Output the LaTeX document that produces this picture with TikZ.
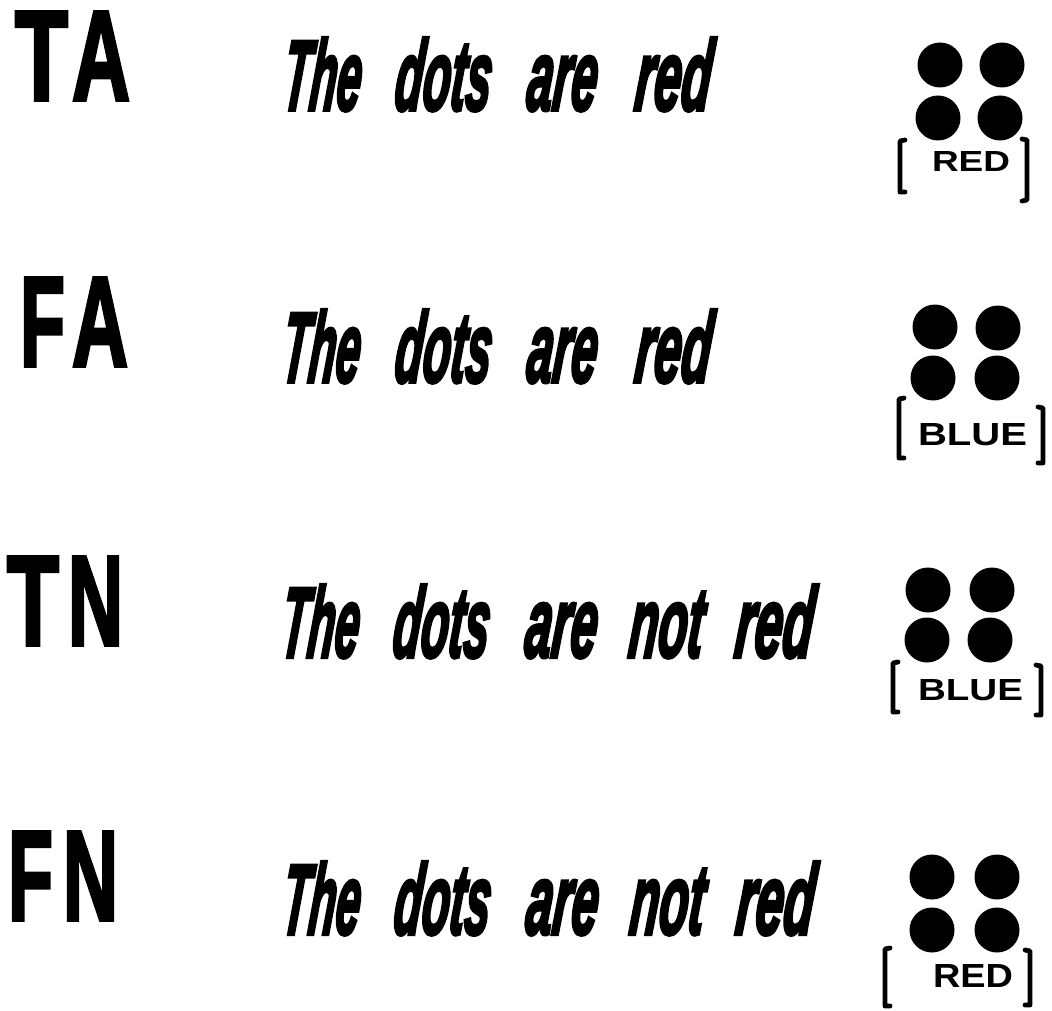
\documentclass[tikz,border=0pt]{standalone}
\usepackage{fontspec}
\usepackage{graphicx}
\setmainfont{Liberation Sans}
\IfFontExistsTF{FiraSans-HeavyItalic.otf}
  {\newfontfamily\sentfont{FiraSans-HeavyItalic.otf}}
  {\newfontfamily\sentfont[FakeBold=4]{Liberation Sans Bold Italic}}
\IfFontExistsTF{FiraSans-Heavy.otf}
  {\newfontfamily\labfont{FiraSans-Heavy.otf}}
  {\newfontfamily\labfont[FakeBold=3]{Liberation Sans Bold}}
\newfontfamily\capfont{Liberation Sans Bold}
\tikzset{
  lbl/.style={anchor=base west, inner sep=0pt, outer sep=0pt},
  word/.style={anchor=base west, inner sep=0pt, outer sep=0pt, xslant=0.1, transform shape},
  dot/.style={circle, fill=black, minimum size=45pt, inner sep=0pt},
  brk/.style={line width=4.8pt, line cap=round, line join=round},
}
% letter of a big label: width, height, letter
\newcommand{\BL}[3]{\resizebox{#1pt}{#2pt}{\labfont #3}}
% word of a sentence: width, text
\newcommand{\SW}[2]{\resizebox{#1pt}{72pt}{\sentfont\vphantom{d}#2}}
% small capitals word
\newcommand{\CW}[3]{\resizebox{#1pt}{#2pt}{\capfont #3}}
\begin{document}
\begin{tikzpicture}[x=1pt,y=-1pt]
\useasboundingbox (0,0) rectangle (1052,1011);
\fill[white] (0,0) rectangle (1052,1011);
% ---------- left labels
\node[lbl] (TA) at (15,100) {\BL{53}{88}{T}\hspace{4pt}\BL{58}{88}{A}};
\node[lbl] (FA) at (20,366) {\BL{45}{88}{F}\hspace{7pt}\BL{56}{88}{A}};
\node[lbl] (TN) at (7,645)  {\BL{52}{88}{T}\hspace{9pt}\BL{55}{88}{N}};
\node[lbl] (FN) at (8,920)  {\BL{45}{88}{F}\hspace{10pt}\BL{55}{88}{N}};
% ---------- sentences
% row 1
\node[word] (s1a) at (281,110) {\SW{78}{The}};
\node[word] (s1b) at (393,110) {\SW{96}{dots}};
\node[word] (s1c) at (525,110) {\SW{70}{are}};
\node[word] (s1d) at (633,110) {\SW{76}{red}};
% row 2
\node[word] (s2a) at (280,382) {\SW{78}{The}};
\node[word] (s2b) at (393,382) {\SW{96}{dots}};
\node[word] (s2c) at (525,382) {\SW{70}{are}};
\node[word] (s2d) at (633,382) {\SW{76}{red}};
% row 3
\node[word] (s3a) at (279,657) {\SW{78}{The}};
\node[word] (s3b) at (391,657) {\SW{96}{dots}};
\node[word] (s3c) at (523,657) {\SW{72}{are}};
\node[word] (s3d) at (627,657) {\SW{74}{not}};
\node[word] (s3e) at (733,657) {\SW{78}{red}};
% row 4
\node[word] (s4a) at (280,934) {\SW{78}{The}};
\node[word] (s4b) at (392,934) {\SW{96}{dots}};
\node[word] (s4c) at (524,934) {\SW{72}{are}};
\node[word] (s4d) at (628,934) {\SW{74}{not}};
\node[word] (s4e) at (734,934) {\SW{78}{red}};
% ---------- row 1 dots
\node[dot] (d1a) at (940,65) {};
\node[dot] (d1b) at (1002,65) {};
\node[dot] (d1c) at (938,118) {};
\node[dot] (d1d) at (1000,118) {};
\draw[brk] (905,140) -- (900,141) -- (900,192) -- (905,192);
\draw[brk] (1022,139) -- (1027,140) -- (1027,200) -- (1022,201);
\node[lbl] (w1) at (932,172) {\CW{78}{20}{RED}};
% ---------- row 2 dots
\node[dot] (d2a) at (935,327) {};
\node[dot] (d2b) at (998,328) {};
\node[dot] (d2c) at (933,378) {};
\node[dot] (d2d) at (997,378) {};
\draw[brk] (904,398) -- (899,399) -- (899,458) -- (904,458);
\draw[brk] (1038,407) -- (1043,408) -- (1043,463) -- (1038,463);
\node[lbl] (w2) at (918,445) {\CW{109}{22}{BLUE}};
% ---------- row 3 dots
\node[dot] (d3a) at (928,590) {};
\node[dot] (d3b) at (992,590) {};
\node[dot] (d3c) at (927,640) {};
\node[dot] (d3d) at (990,640) {};
\draw[brk] (898,662) -- (893,663) -- (893,712) -- (898,712);
\draw[brk] (1036,665) -- (1041,666) -- (1041,715) -- (1036,715);
\node[lbl] (w3) at (918,700) {\CW{105}{21}{BLUE}};
% ---------- row 4 dots
\node[dot] (d4a) at (932,877) {};
\node[dot] (d4b) at (997,877) {};
\node[dot] (d4c) at (932,930) {};
\node[dot] (d4d) at (997,930) {};
\draw[brk] (890,948) -- (885,949) -- (885,1006) -- (890,1006);
\draw[brk] (1025,950) -- (1030,951) -- (1030,1005) -- (1025,1005);
\node[lbl] (w4) at (933,987) {\CW{80}{23}{RED}};
\end{tikzpicture}
\end{document}
